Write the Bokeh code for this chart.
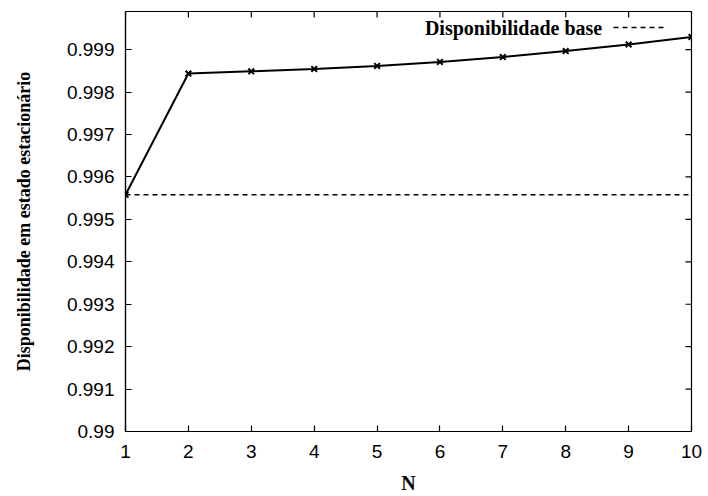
import math
from bokeh.plotting import figure
from bokeh.models import (FixedTicker, CustomJSTickFormatter, Span, Label,
                          Range1d)
from bokeh.embed import file_html
from bokeh.resources import INLINE

# Steady-state availability as a function of N
n_values = [1, 2, 3, 4, 5, 6, 7, 8, 9, 10]
availability = [0.99558, 0.998438, 0.998491, 0.998545, 0.998616,
                0.998710, 0.998827, 0.998967, 0.999124, 0.999300]
base_availability = 0.99558

x_ticks = [1, 2, 3, 4, 5, 6, 7, 8, 9, 10]
y_ticks = [0.990, 0.991, 0.992, 0.993, 0.994, 0.995, 0.996, 0.997, 0.998, 0.999]
x_min, x_max = 1, 10
y_min, y_max = 0.99, 0.9999

legend_text = "Disponibilidade base"
x_title = "N"
y_title = "Disponibilidade em estado estacionário"

SANS = "Liberation Sans"
SERIF = "Liberation Serif"

p = figure(width=708, height=496, output_backend="svg", toolbar_location=None,
           x_range=Range1d(x_min, x_max), y_range=Range1d(y_min, y_max),
           min_border_left=125, min_border_right=17,
           min_border_top=11, min_border_bottom=63)

p.background_fill_color = "white"
p.border_fill_color = "white"
p.outline_line_color = "black"
p.outline_line_width = 1.2
p.xgrid.visible = False
p.ygrid.visible = False

def style_axis(ax, ticks, title_size):
    ax.ticker = FixedTicker(ticks=ticks)
    ax.axis_line_color = "black"
    ax.axis_line_width = 1.2
    ax.major_tick_in = 6
    ax.major_tick_out = 0
    ax.major_tick_line_width = 1.2
    ax.minor_tick_line_color = None
    ax.major_label_text_font = SANS
    ax.major_label_text_color = "black"
    ax.major_label_text_font_size = "19px"
    ax.axis_label_text_font = SERIF
    ax.axis_label_text_font_style = "bold"
    ax.axis_label_text_font_size = title_size
    ax.axis_label_text_color = "black"

xa = p.xaxis[0]
ya = p.yaxis[0]
style_axis(xa, x_ticks, "20px")
style_axis(ya, y_ticks, "18px")
ya.formatter = CustomJSTickFormatter(
    code="return tick.toFixed(3).replace(/0+$/, '');")
xa.axis_label = x_title
ya.axis_label = y_title
xa.major_label_standoff = 13
xa.axis_label_standoff = 11
ya.major_label_standoff = 11
ya.axis_label_standoff = 30

# mirrored inward ticks on the top and right edges (half of each dash is
# clipped by the frame, leaving a 6px tick inside)
p.scatter([x_max] * len(y_ticks), y_ticks, marker="dash", size=12,
          line_color="black", line_width=1.2)
p.scatter(x_ticks, [y_max] * len(x_ticks), marker="dash", size=12,
          angle=math.pi / 2, line_color="black", line_width=1.2)

# base availability reference
p.add_layout(Span(location=base_availability, dimension="width",
                  line_color="black", line_width=1.5, line_dash="5 4"))

# availability curve
p.line(n_values, availability, line_color="black", line_width=2)
p.scatter(n_values, availability, marker="x", size=8, line_color="black",
          line_width=2)

# key: text followed by a dashed sample
p.add_layout(Label(x=8.58, y=0.99952, text=legend_text, text_align="right",
                   text_baseline="middle", text_font=SERIF,
                   text_font_style="bold", text_font_size="20px",
                   text_color="black"))
p.line([8.76, 9.62], [0.99952, 0.99952], line_color="black", line_width=1.5,
       line_dash="5 4")

open("out.html", "w").write(file_html(p, INLINE))
